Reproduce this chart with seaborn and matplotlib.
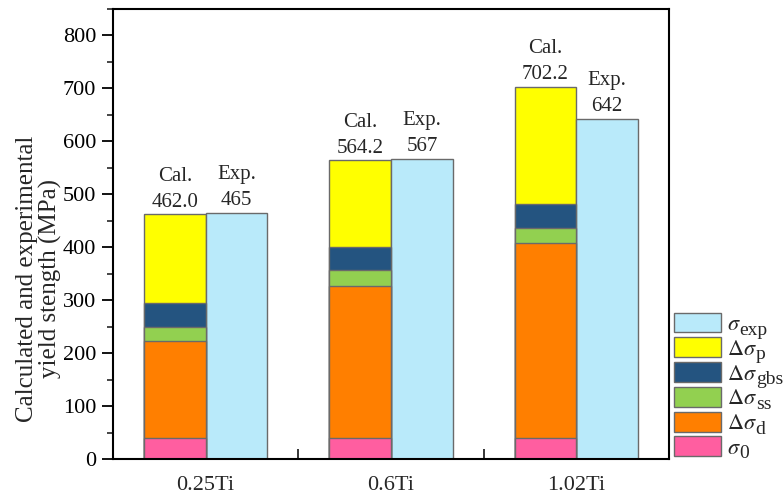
import numpy as np
import pandas as pd
import matplotlib
matplotlib.use("Agg")
import matplotlib.pyplot as plt
from matplotlib.patches import Patch
from matplotlib.ticker import MultipleLocator, FixedLocator
import seaborn as sns

# ---- data ----
alloys = ["0.25Ti", "0.6Ti", "1.02Ti"]
sigma0 = [40.0, 40.0, 40.0]
d_sigma_d = [182.6, 286.4, 367.5]
d_sigma_ss = [26.5, 30.2, 28.5]
d_sigma_gbs = [45.0, 43.4, 45.0]
cal_total = [462.0, 564.2, 702.2]
exp_values = [465, 567, 642]
cal_labels = ["462.0", "564.2", "702.2"]
exp_labels = ["465", "567", "642"]
legend_main = [r"$\sigma$", r"$\Delta\sigma$", r"$\Delta\sigma$", r"$\Delta\sigma$",
               r"$\Delta\sigma$", r"$\sigma$"]
legend_sub = ["exp", "p", "gbs", "ss", "d", "0"]

colors = {
    "exp": "#B9EAFA",
    "p": "#FFFF00",
    "gbs": "#245480",
    "ss": "#92D050",
    "d": "#FF7F00",
    "s0": "#FF5EA0",
}
edge = "#6a6a6a"

sns.set_theme(style="white")
plt.rcParams["font.family"] = ["Liberation Serif", "DejaVu Serif"]
plt.rcParams["mathtext.fontset"] = "stix"

W, H = 783, 496
fig = plt.figure(figsize=(W / 100, H / 100), dpi=100)
ax = fig.add_axes([113 / W, (H - 459) / H, (669 - 113) / W, (459 - 9) / H])

# cumulative layers for calculated bars
c_s0 = np.array(sigma0)
c_d = c_s0 + np.array(d_sigma_d)
c_ss = c_d + np.array(d_sigma_ss)
c_gbs = c_ss + np.array(d_sigma_gbs)
c_p = np.array(cal_total)

hue_order = ["Cal", "Exp"]
top_df = pd.DataFrame({
    "alloy": alloys + alloys,
    "kind": ["Cal"] * 3 + ["Exp"] * 3,
    "value": list(c_p) + list(exp_values),
})
sns.barplot(data=top_df, x="alloy", y="value", hue="kind", hue_order=hue_order,
            order=alloys, palette={"Cal": colors["p"], "Exp": colors["exp"]},
            width=0.667, dodge=True, errorbar=None, edgecolor=edge, linewidth=1.0,
            ax=ax, legend=False, saturation=1)

for cum, key in [(c_gbs, "gbs"), (c_ss, "ss"), (c_d, "d"), (c_s0, "s0")]:
    df = pd.DataFrame({"alloy": alloys, "kind": ["Cal"] * 3, "value": cum})
    sns.barplot(data=df, x="alloy", y="value", hue="kind", hue_order=hue_order,
                order=alloys, palette={"Cal": colors[key], "Exp": colors["exp"]},
                width=0.667, dodge=True, errorbar=None, edgecolor=edge, linewidth=1.0,
                ax=ax, legend=False, saturation=1)

# annotations
for i in range(3):
    ax.annotate(f"Cal.\n{cal_labels[i]}", xy=(i - 0.1667, cal_total[i]), xytext=(0, 2),
                textcoords="offset points", ha="center", va="bottom",
                fontsize=15, linespacing=1.5)
    ax.annotate(f"Exp.\n{exp_labels[i]}", xy=(i + 0.1667, exp_values[i]), xytext=(0, 2),
                textcoords="offset points", ha="center", va="bottom",
                fontsize=15, linespacing=1.5)

ax.set_xlim(-0.5, 2.5)
ax.set_ylim(0, 850)
ax.yaxis.set_major_locator(MultipleLocator(100))
ax.yaxis.set_minor_locator(MultipleLocator(50))
ax.xaxis.set_minor_locator(FixedLocator([0.5, 1.5]))
ax.tick_params(axis="y", which="major", direction="out", length=8, width=1.3,
               labelsize=16, pad=4, left=True, colors="black")
ax.tick_params(axis="y", which="minor", direction="out", length=4, width=1.2, left=True)
ax.tick_params(axis="x", which="major", length=0, labelsize=16, pad=12)
ax.tick_params(axis="x", which="minor", direction="in", length=7, width=1.3, bottom=True)
ax.set_xlabel("")
ax.set_ylabel("Calculated and experimental\nyield stength (MPa)", fontsize=18,
              linespacing=1.05)
ax.yaxis.set_label_coords((62 - 113) / 556, 0.40)
for sp in ax.spines.values():
    sp.set_visible(True)
    sp.set_color("black")
    sp.set_linewidth(1.5)

fcs = [colors["exp"], colors["p"], colors["gbs"], colors["ss"], colors["d"], colors["s0"]]
handles = [Patch(facecolor=fc, edgecolor=edge, label=lab)
           for fc, lab in zip(fcs, legend_main)]
leg = fig.legend(handles=handles, loc="lower left",
                 bbox_to_anchor=(674 / W, (H - 459) / H), frameon=False,
                 fontsize=16, handlelength=2.1, handleheight=1.0, labelspacing=0.1,
                 handletextpad=0.3, borderpad=0, borderaxespad=0)

# larger subscripts, as in the original figure
fig.canvas.draw()
renderer = fig.canvas.get_renderer()
for t, sub in zip(leg.get_texts(), legend_sub):
    bb = t.get_window_extent(renderer)
    fig.text((bb.x1 - 1.5) / W, (bb.y0 + 0.5) / H, sub, fontsize=14,
             ha="left", va="baseline", transform=fig.transFigure)

fig.savefig("out.png", dpi=100)
